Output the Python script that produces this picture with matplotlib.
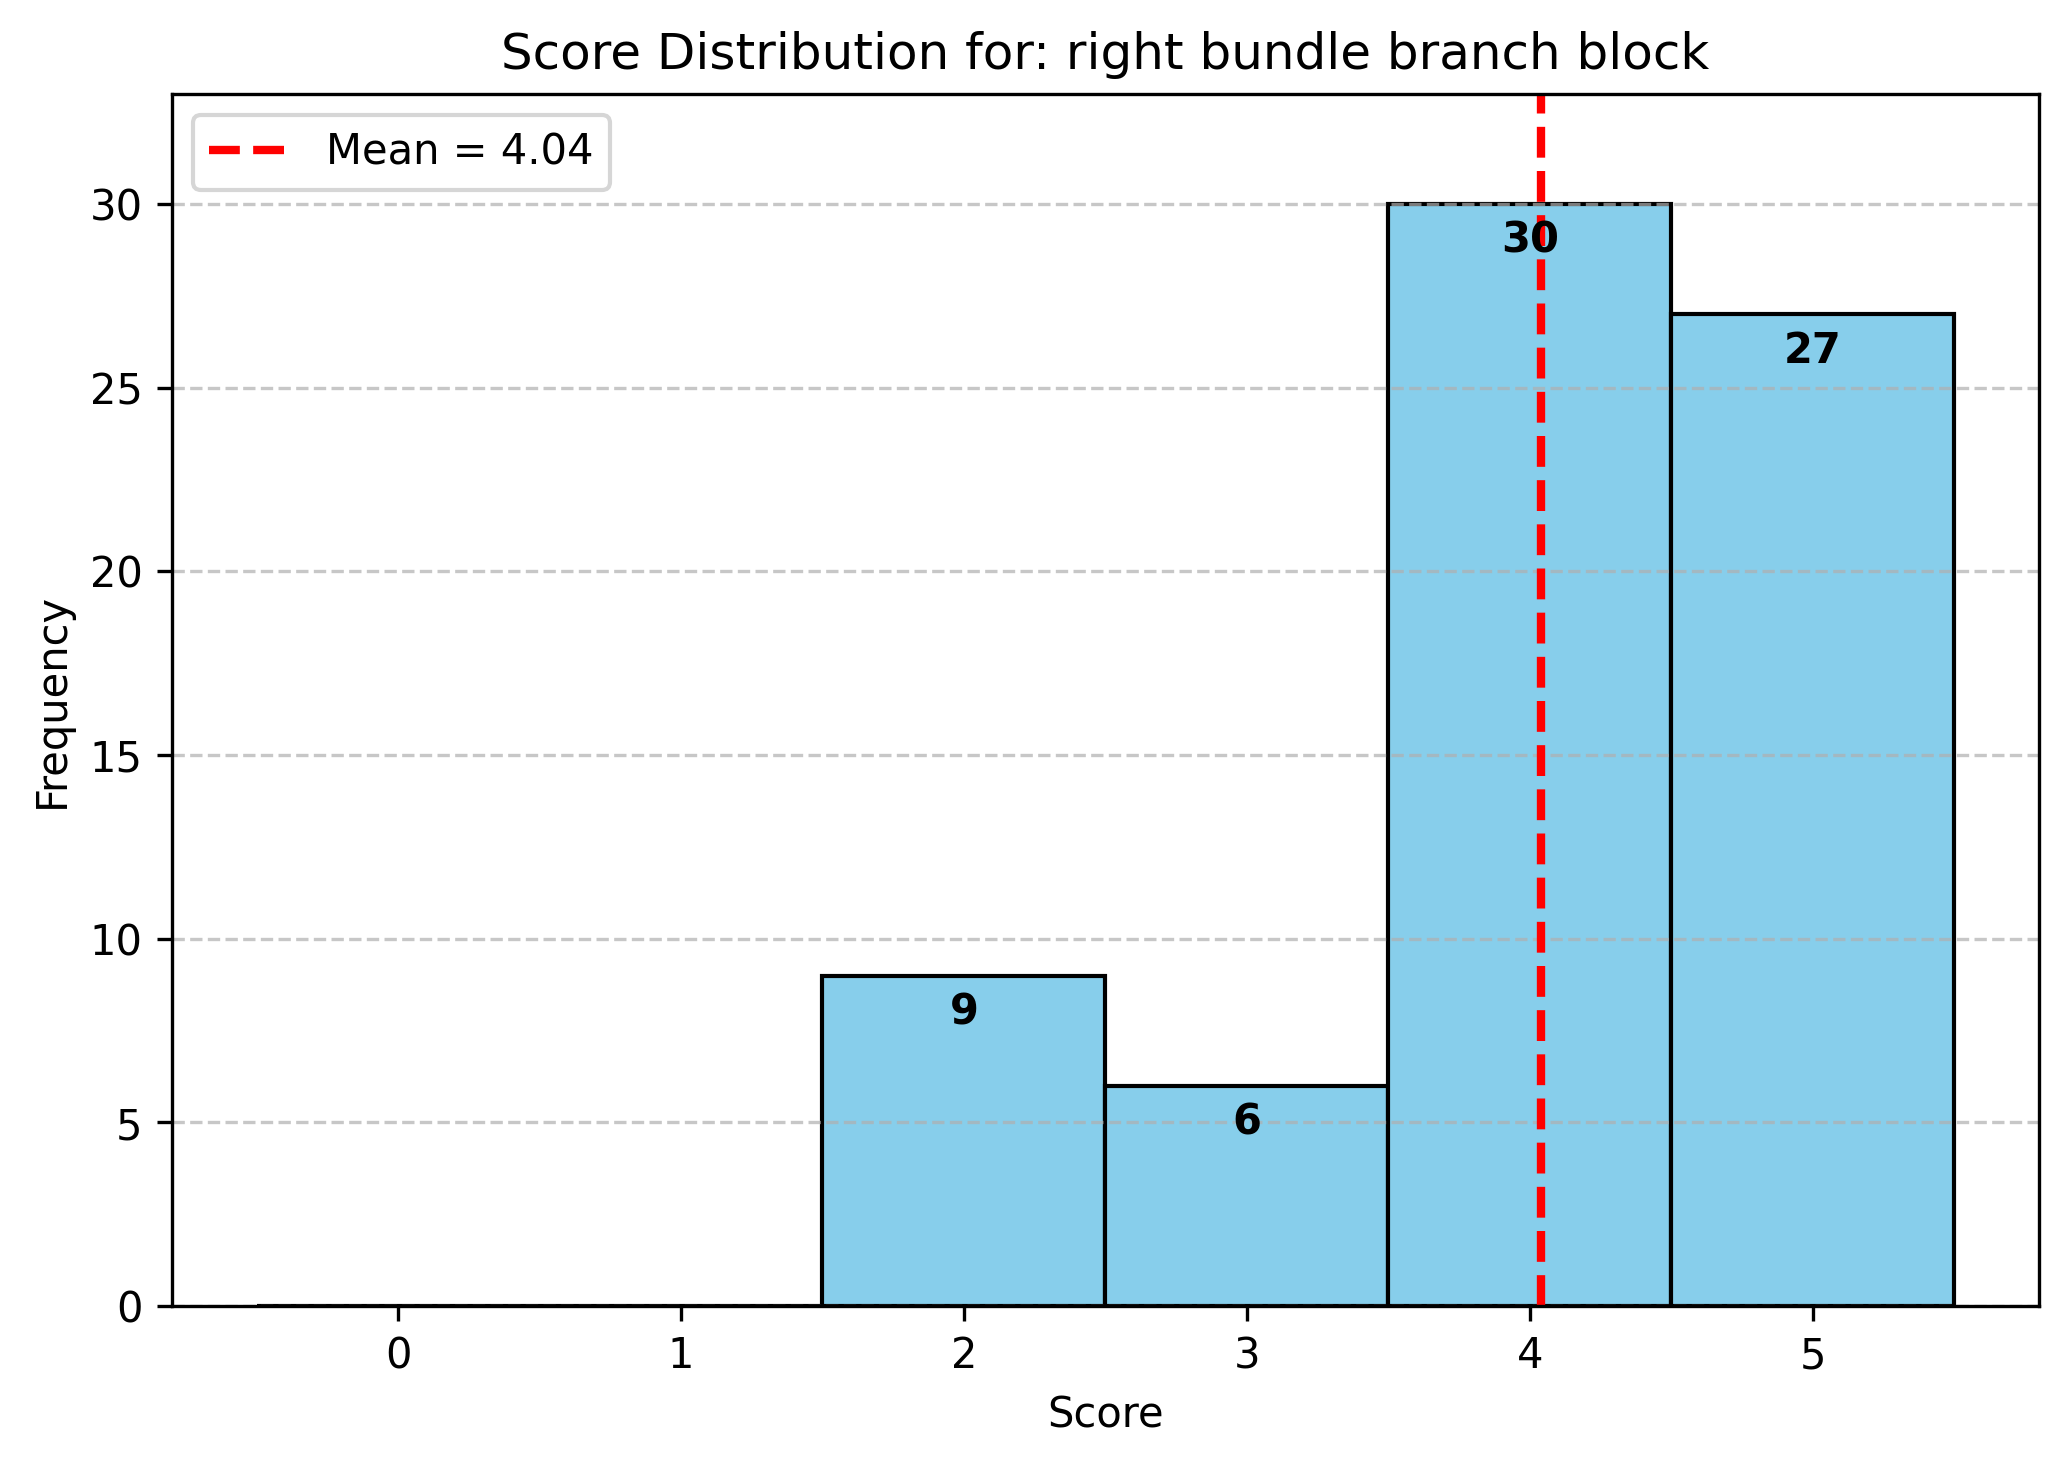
import matplotlib
matplotlib.use("Agg")
import matplotlib.pyplot as plt

scores = [0, 1, 2, 3, 4, 5]
counts = [0, 0, 9, 6, 30, 27]
mean_score = 4.04
condition = "right bundle branch block"


def main():
    fig, ax = plt.subplots(figsize=(6.9, 4.887))

    bars = ax.bar(scores, counts, width=1.0, color="skyblue", edgecolor="black")
    ax.axvline(mean_score, color="red", linestyle="--", linewidth=2,
               label=f"Mean = {mean_score:.2f}")

    # rótulos de contagem dentro das barras
    for b, c in zip(bars, counts):
        if c > 0:
            ax.text(b.get_x() + b.get_width() / 2, c - 1, str(c),
                    ha="center", va="center", fontweight="bold", fontsize=10)

    ax.set_xticks(scores)
    ax.set_ylim(0, max(counts) * 1.1)
    ax.set_xlabel("Score")
    ax.set_ylabel("Frequency")
    ax.set_title(f"Score Distribution for: {condition}")
    ax.grid(axis="y", linestyle="--", alpha=0.7)
    ax.legend(loc="upper left")

    fig.subplots_adjust(left=0.083, right=0.985, top=0.936, bottom=0.109)
    plt.savefig("out.png", dpi=300)
    plt.close()


if __name__ == "__main__":
    main()
